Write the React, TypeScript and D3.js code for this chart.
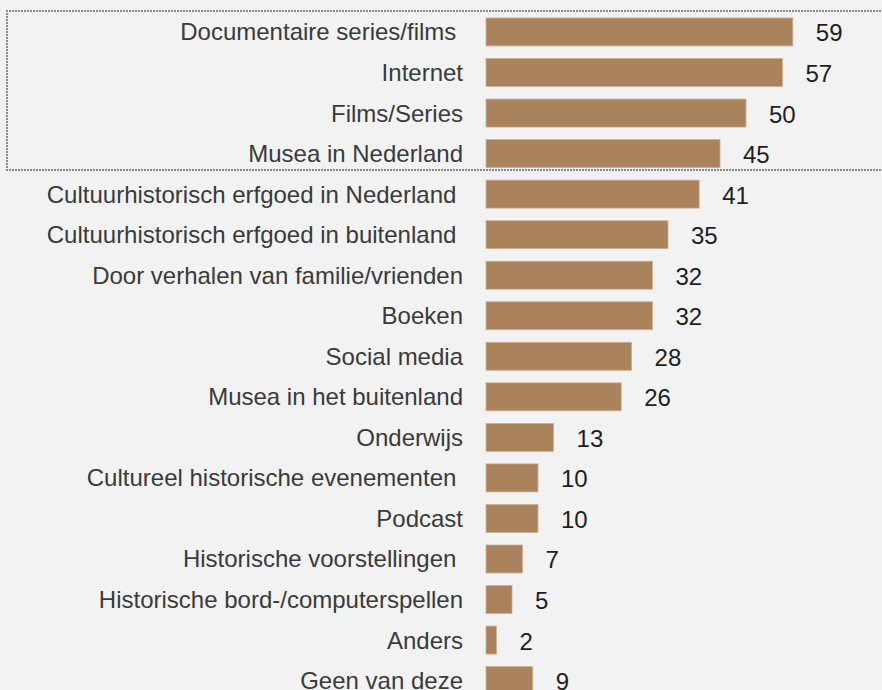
import React from "react";
import * as d3 from "d3";

// categories (trailing spaces are in the original labels)
const categories = [
  "Documentaire series/films ",
  "Internet",
  "Films/Series",
  "Musea in Nederland",
  "Cultuurhistorisch erfgoed in Nederland ",
  "Cultuurhistorisch erfgoed in buitenland ",
  "Door verhalen van familie/vrienden",
  "Boeken",
  "Social media",
  "Musea in het buitenland",
  "Onderwijs",
  "Cultureel historische evenementen ",
  "Podcast",
  "Historische voorstellingen ",
  "Historische bord-/computerspellen",
  "Anders",
  "Geen van deze",
];
const values = [59, 57, 50, 45, 41, 35, 32, 32, 28, 26, 13, 10, 10, 7, 5, 2, 9];

const App = () => {
  const svgRef = React.useRef<SVGSVGElement>(null);
  const width = 882;
  const height = 690;

  React.useEffect(() => {
    const svg = d3.select(svgRef.current);
    svg.selectAll("*").remove();

    svg
      .append("rect")
      .attr("width", width)
      .attr("height", height)
      .attr("fill", "#f2f2f2");

    const x = d3.scaleLinear().domain([0, 60]).range([486, 798]);
    const y = d3
      .scaleBand<number>()
      .domain(d3.range(categories.length))
      .range([11.7, 11.7 + 17 * 40.54])
      .paddingInner(0.31)
      .paddingOuter(0.155);

    // dotted highlight box around the top four
    svg
      .append("path")
      .attr("d", `M${width + 5},11 H7 V170 H${width + 5}`)
      .attr("fill", "none")
      .attr("stroke", "#8a8a8a")
      .attr("stroke-width", 2)
      .attr("stroke-dasharray", "2 1");

    const row = svg
      .selectAll("g.row")
      .data(values)
      .enter()
      .append("g")
      .attr("class", "row");

    row
      .append("rect")
      .attr("x", x(0))
      .attr("y", (d, i) => y(i)!)
      .attr("width", (d) => x(d) - x(0))
      .attr("height", y.bandwidth())
      .attr("fill", "#aa825c")
      .attr("stroke", "#cdb092")
      .attr("stroke-width", 0.8);

    row
      .append("text")
      .attr("x", 463)
      .attr("y", (d, i) => y(i)! + y.bandwidth() / 2)
      .attr("text-anchor", "end")
      .attr("dominant-baseline", "central")
      .style("white-space", "pre")
      .attr("font-family", "'Liberation Sans', Arial, sans-serif")
      .attr("font-size", 24)
      .attr("fill", "#3a3a3a")
      .text((d, i) => categories[i]);

    row
      .append("text")
      .attr("x", (d) => x(d) + 23)
      .attr("y", (d, i) => y(i)! + y.bandwidth() / 2 + 1)
      .attr("dominant-baseline", "central")
      .attr("font-family", "'Liberation Sans', Arial, sans-serif")
      .attr("font-size", 24)
      .attr("fill", "#1e1e1e")
      .text((d) => d);
  }, []);

  return (
    <svg
      ref={svgRef}
      width={width}
      height={height}
      style={{ position: "absolute", left: 0, top: 0, display: "block" }}
    />
  );
};

export default App;
